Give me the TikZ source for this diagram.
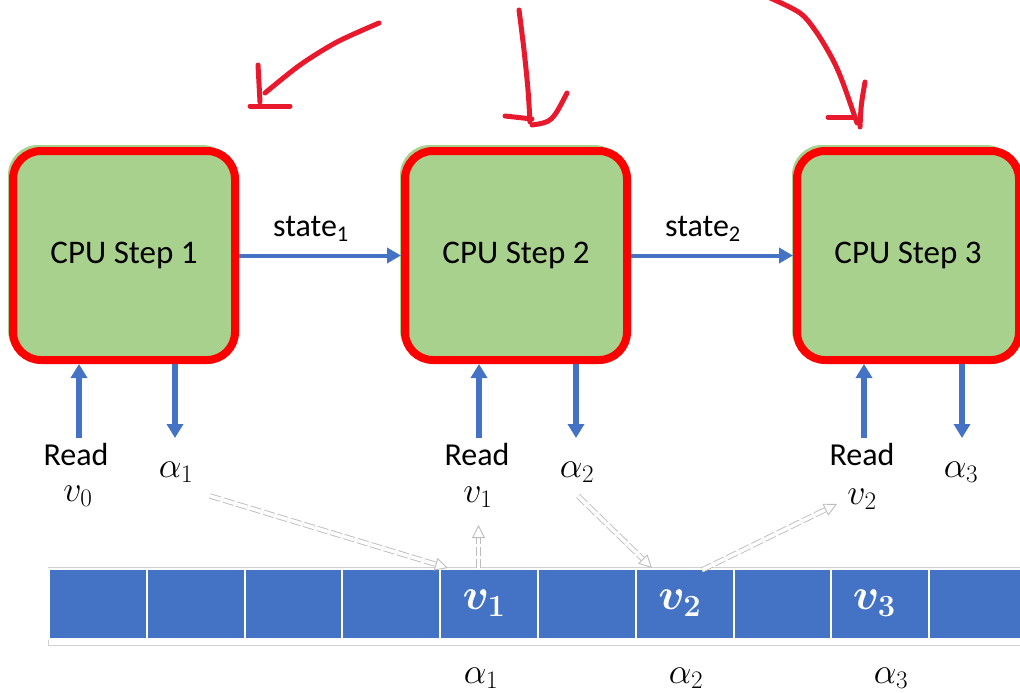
\RequirePackage{fix-cm}
\documentclass[tikz,border=0pt]{standalone}
\usepackage{fontspec}
\setmainfont{Carlito}
\usetikzlibrary{arrows.meta,calc}
\definecolor{cpugreen}{HTML}{A9D18E}
\definecolor{cpured}{HTML}{FF0000}
\definecolor{flowblue}{HTML}{4472C4}
\definecolor{inkred}{HTML}{E8192C}
\definecolor{ghost}{HTML}{BDBDBD}
\tikzset{
  cpubox/.style={draw=cpured, fill=cpugreen, line width=8pt, rounded corners=28pt,
    minimum width=222pt, minimum height=209pt, inner sep=0pt,
    font=\fontsize{33}{40}\selectfont},
  flowh/.style={draw=flowblue, line width=4pt, -{Triangle[length=14pt,width=15pt]}},
  flowv/.style={draw=flowblue, line width=5.5pt, -{Triangle[length=14pt,width=16pt]}},
  lbl/.style={inner sep=0pt, font=\fontsize{32}{38}\selectfont},
  mlbl/.style={inner sep=0pt, font=\fontsize{36}{42}\selectfont},
  cell/.style={draw=white, line width=2pt, fill=flowblue, minimum width=97.8pt,
    minimum height=70pt, inner sep=0pt},
  celltxt/.style={inner sep=0pt, text=white, font=\fontsize{44}{50}\selectfont\boldmath},
  ghostarrow/.style={draw=ghost, line width=0.9pt, dash pattern=on 11pt off 3pt,
    double=white, double distance=3.5pt,
    -{Triangle[open, fill=white, length=13pt, width=13pt, line width=0.9pt]}},
  ink/.style={draw=inkred, line width=5pt, line cap=round, line join=round}
}
\begin{document}
\begin{tikzpicture}[x=1pt,y=-1pt]
\useasboundingbox (0,0) rectangle (1020,693);
\clip (0,0) rectangle (1020,693);

% processing steps (a faint green rim peeks out at the top left)
\foreach \cx in {124,516,908} {
  \fill[cpugreen, rounded corners=30pt] (\cx-116,145) rectangle (\cx+108,360);
}
\node[cpubox] (s1) at (124,255.5) {CPU Step 1};
\node[cpubox] (s2) at (516,255.5) {CPU Step 2};
\node[cpubox] (s3) at (908,255.5) {CPU Step 3};

% state hand-over
\draw[flowh] (s1.east) -- (s2.west);
\draw[flowh] (s2.east) -- (s3.west);
\node[lbl] (st1) at (311,229) {state\textsubscript{1}};
\node[lbl] (st2) at (703,229) {state\textsubscript{2}};

% reads and outputs of each step
\coordinate (u1) at (79,438);  \coordinate (d1) at (175,438);
\coordinate (u2) at (479,438); \coordinate (d2) at (576,438);
\coordinate (u3) at (864,438); \coordinate (d3) at (962,438);
\draw[flowv] (u1) -- (u1 |- s1.south);
\draw[flowv] (d1 |- s1.south) -- (d1);
\draw[flowv] (u2) -- (u2 |- s2.south);
\draw[flowv] (d2 |- s2.south) -- (d2);
\draw[flowv] (u3) -- (u3 |- s3.south);
\draw[flowv] (d3 |- s3.south) -- (d3);

\node[lbl] (rd0) at (76,455) {Read};
\node[mlbl] (rv0) at (78,496) {$v_0$};
\node[mlbl] (oa1) at (176,472) {$\alpha_1$};
\node[lbl] (rd1) at (477,455) {Read};
\node[mlbl] (rv1) at (478,497) {$v_1$};
\node[mlbl] (oa2) at (577,472) {$\alpha_2$};
\node[lbl] (rd2) at (862,455) {Read};
\node[mlbl] (rv2) at (862,499) {$v_2$};
\node[mlbl] (oa3) at (961,472) {$\alpha_3$};

% memory tape
\draw[ghost!70, line width=1pt] (48.5,567.5) rectangle (1040,645);
\foreach \i in {1,...,10} {
  \node[cell] (c\i) at ({49+97.8*(\i-0.5)},603.5) {};
}
\node[celltxt] (m1) at ($(c5)+(-5,0)$) {$v_1$};
\node[celltxt] (m2) at ($(c7)+(-5,0)$) {$v_2$};
\node[celltxt] (m3) at ($(c9)+(-6,0)$) {$v_3$};
\node[mlbl] (ba1) at (481,678) {$\alpha_1$};
\node[mlbl] (ba2) at (686,678) {$\alpha_2$};
\node[mlbl] (ba3) at (891,678) {$\alpha_3$};

% faint address / read pointers
\coordinate (g1t) at (210,496); \coordinate (g1h) at (448,568);
\coordinate (g2t) at (478.5,568); \coordinate (g2h) at (478.5,525);
\coordinate (g3t) at (578,496); \coordinate (g3h) at (652,568);
\coordinate (g4t) at (702,570); \coordinate (g4h) at (837,504);
\draw[ghostarrow] (g1t) -- (g1h);
\draw[ghostarrow, dash pattern=on 9pt off 3pt] (g2t) -- (g2h);
\draw[ghostarrow] (g3t) -- (g3h);
\draw[ghostarrow] (g4t) -- (g4h);

% hand-drawn red marks above the steps
\draw[ink] plot[smooth] coordinates {(379,23) (337,42) (300,65) (265,93)};
\draw[ink] (258,65) -- (260,102);
\draw[ink] (250,106) -- (290,106);

\draw[ink] plot[smooth] coordinates {(519,10) (524,50) (528,90) (530,122)};
\draw[ink] (505,116) -- (532,119);
\draw[ink] (532,125) .. controls (552,122) .. (567,93);

\draw[ink] plot[smooth] coordinates {(768,-3) (800,13) (817,33) (833,60) (843,83) (857,123)};
\draw[ink] (828,117) -- (853,117);
\draw[ink] (860,127) .. controls (861,105) .. (865,82);
\end{tikzpicture}
\end{document}
